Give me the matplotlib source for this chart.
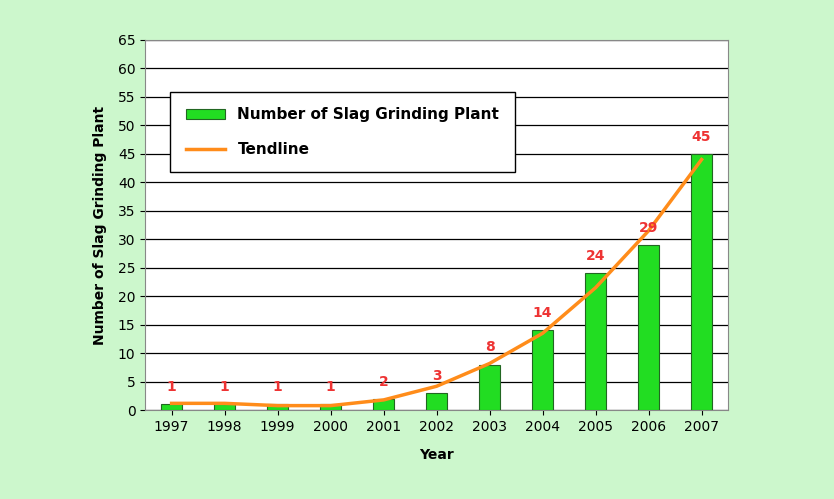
import matplotlib.pyplot as plt

years = ["1997", "1998", "1999", "2000", "2001", "2002", "2003", "2004", "2005", "2006", "2007"]
plants = [1, 1, 1, 1, 2, 3, 8, 14, 24, 29, 45]
# trendline at each year
trend = [1.2, 1.2, 0.8, 0.8, 1.8, 4.2, 8.2, 13.5, 21.5, 31.5, 44]

fig = plt.figure(figsize=(8.34, 4.99), dpi=100)
fig.patch.set_facecolor("#ccf7cc")
ax = fig.add_axes([0.174, 0.178, 0.699, 0.742])
ax.set_facecolor("white")

x = range(len(years))
bars = ax.bar(x, plants, width=0.4, color="#22dd22", edgecolor="#226622", linewidth=0.8,
              zorder=3)
line, = ax.plot(x, trend, color="#ff8c1a", linewidth=2.5, zorder=4)
for i, v in enumerate(plants):
    ax.text(i, v + 1.8, str(v), color="#ee3333", fontsize=10, fontweight="bold",
            ha="center", va="bottom", zorder=5)

ax.set_xlim(-0.5, len(years) - 0.5)
ax.set_ylim(0, 65)
ax.set_yticks(range(0, 66, 5))
ax.set_xticks(list(x))
ax.set_xticklabels(years)
ax.tick_params(labelsize=10)
ax.yaxis.grid(True, color="black", linewidth=0.9, zorder=0)
for s in ax.spines.values():
    s.set_color("#888888")
ax.set_xlabel("Year", fontsize=10, fontweight="bold", labelpad=10)
ax.set_ylabel("Number of Slag Grinding Plant", fontsize=10, fontweight="bold", labelpad=8)

leg = ax.legend([bars, line], ["Number of Slag Grinding Plant", "Tendline"],
                loc="upper left", bbox_to_anchor=(0.03, 0.88), fontsize=11,
                frameon=True, fancybox=False, edgecolor="black", borderpad=1.0,
                labelspacing=1.3, handlelength=2.6, framealpha=1)
leg.get_frame().set_linewidth(1.0)
for t in leg.get_texts():
    t.set_fontweight("bold")

fig.savefig("out.png", dpi=100, facecolor=fig.get_facecolor())
